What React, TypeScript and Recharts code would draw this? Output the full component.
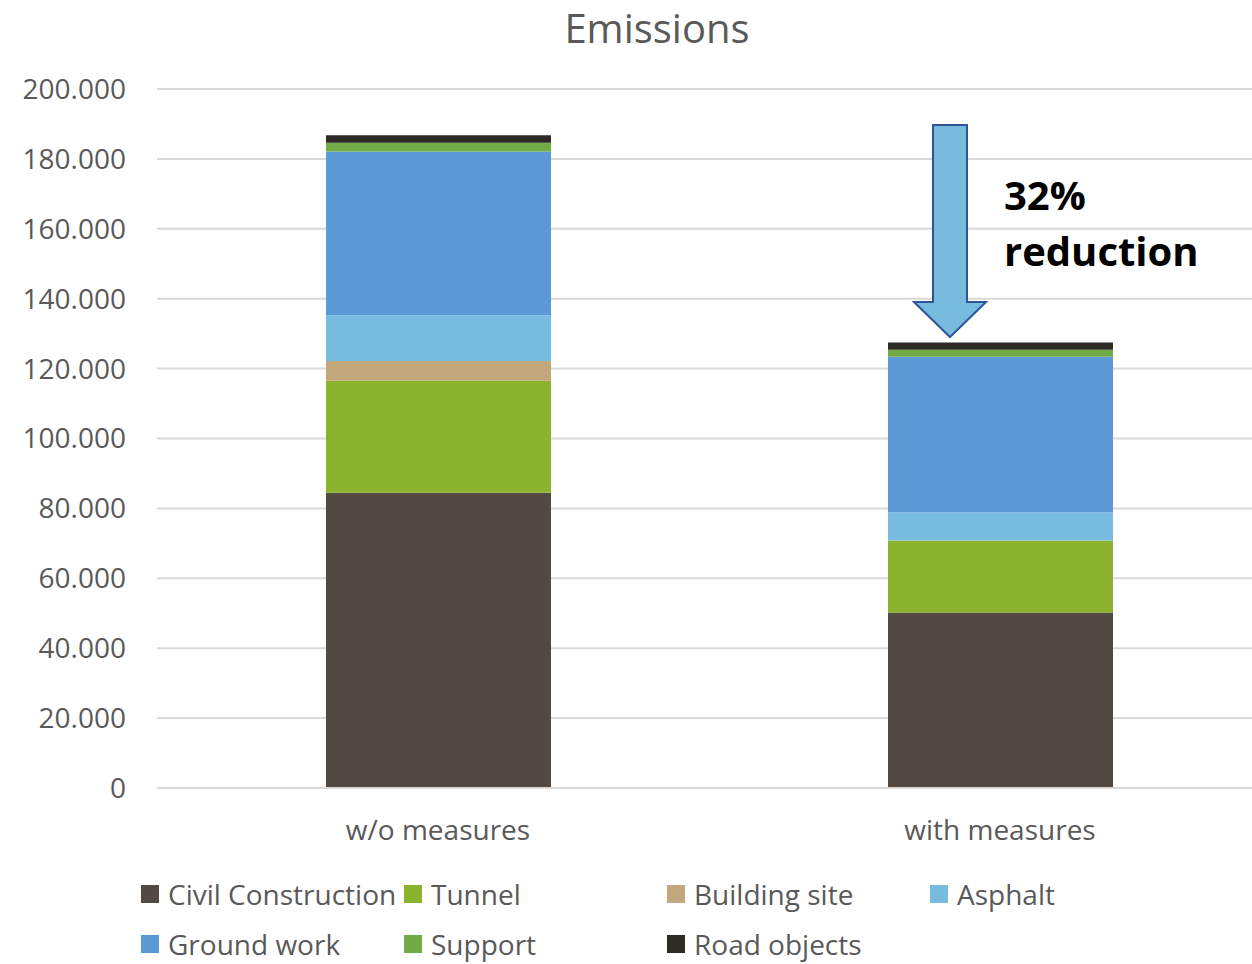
import { BarChart, Bar, XAxis, YAxis, CartesianGrid } from "recharts";

const categories = ["w/o measures", "with measures"];
const civilConstruction = [84.5, 50.2];
const tunnel = [32.0, 20.6];
const buildingSite = [5.7, 0];
const asphalt = [13.1, 8.0];
const groundWork = [46.8, 44.6];
const support = [2.5, 2.0];
const roadObjects = [2.2, 2.1];
const yTicks = [0, 20, 40, 60, 80, 100, 120, 140, 160, 180, 200];

const SERIES = [
  { key: "civil", name: "Civil Construction", values: civilConstruction, color: "#524A42" },
  { key: "tunnel", name: "Tunnel", values: tunnel, color: "#8BB32D" },
  { key: "building", name: "Building site", values: buildingSite, color: "#C1A77B" },
  { key: "asphalt", name: "Asphalt", values: asphalt, color: "#77BCDF" },
  { key: "ground", name: "Ground work", values: groundWork, color: "#5B9AD5" },
  { key: "support", name: "Support", values: support, color: "#70AB46" },
  { key: "road", name: "Road objects", values: roadObjects, color: "#2E2A26" },
];

const FONT = "'Open Sans', sans-serif";
const TEXT = "#595959";
const GRID = "#D9D9D9";

const data = categories.map((name, i) => {
  const row: Record<string, string | number> = { name };
  SERIES.forEach((s) => {
    row[s.key] = s.values[i];
  });
  return row;
});

const formatTick = (v: number) => (v === 0 ? "0" : v.toFixed(3));

const App = () => {
  return (
    <div
      style={{
        position: "absolute",
        left: 0,
        top: 0,
        width: 1252,
        height: 964,
        overflow: "hidden",
        background: "#fff",
        fontFamily: FONT,
      }}
    >
      <BarChart
        width={1281}
        height={964}
        data={data}
        margin={{ top: 89, right: 0, left: 0, bottom: 0 }}
      >
        <CartesianGrid vertical={false} stroke={GRID} strokeWidth={2} />
        <XAxis
          dataKey="name"
          height={176}
          axisLine={{ stroke: GRID, strokeWidth: 2 }}
          tickLine={false}
          tickSize={0}
          tickMargin={32}
          tick={{ fontSize: 28, fill: TEXT, fontFamily: FONT }}
        />
        <YAxis
          width={157}
          domain={[0, 200]}
          ticks={yTicks}
          interval={0}
          axisLine={false}
          tickLine={false}
          tickSize={0}
          tickMargin={31}
          tickFormatter={formatTick}
          tick={{ fontSize: 28, fill: TEXT, fontFamily: FONT }}
        />
        {SERIES.map((s) => (
          <Bar
            key={s.key}
            dataKey={s.key}
            name={s.name}
            stackId="total"
            fill={s.color}
            barSize={225}
            isAnimationActive={false}
          />
        ))}
      </BarChart>

      {/* title + reduction annotation */}
      <svg
        width={1252}
        height={964}
        style={{ position: "absolute", left: 0, top: 0, pointerEvents: "none" }}
      >
        <text x={657} y={43} textAnchor="middle" fontSize={40} fill={TEXT} fontFamily={FONT}>
          Emissions
        </text>
        <polygon
          points="933,125 967,125 967,302 986,302 950,337 914,302 933,302"
          fill="#77BCDF"
          stroke="#2F5597"
          strokeWidth={2}
        />
        <text x={1004} y={210} fontSize={40} fontWeight={700} fill="#000" fontFamily={FONT}>
          32%
        </text>
        <text x={1004} y={266} fontSize={40} fontWeight={700} fill="#000" fontFamily={FONT}>
          reduction
        </text>
      </svg>

      {/* legend */}
      <div
        style={{
          position: "absolute",
          left: 141,
          top: 879,
          width: 1052,
          display: "grid",
          gridTemplateColumns: "repeat(4, 263px)",
          rowGap: 20,
        }}
      >
        {SERIES.map((s) => (
          <div
            key={s.key}
            style={{ display: "flex", alignItems: "center", height: 30, whiteSpace: "nowrap" }}
          >
            <span
              style={{ width: 18, height: 18, background: s.color, marginRight: 9, flexShrink: 0 }}
            />
            <span style={{ fontSize: 28, color: TEXT, lineHeight: "30px" }}>{s.name}</span>
          </div>
        ))}
      </div>
    </div>
  );
};

export default App;
